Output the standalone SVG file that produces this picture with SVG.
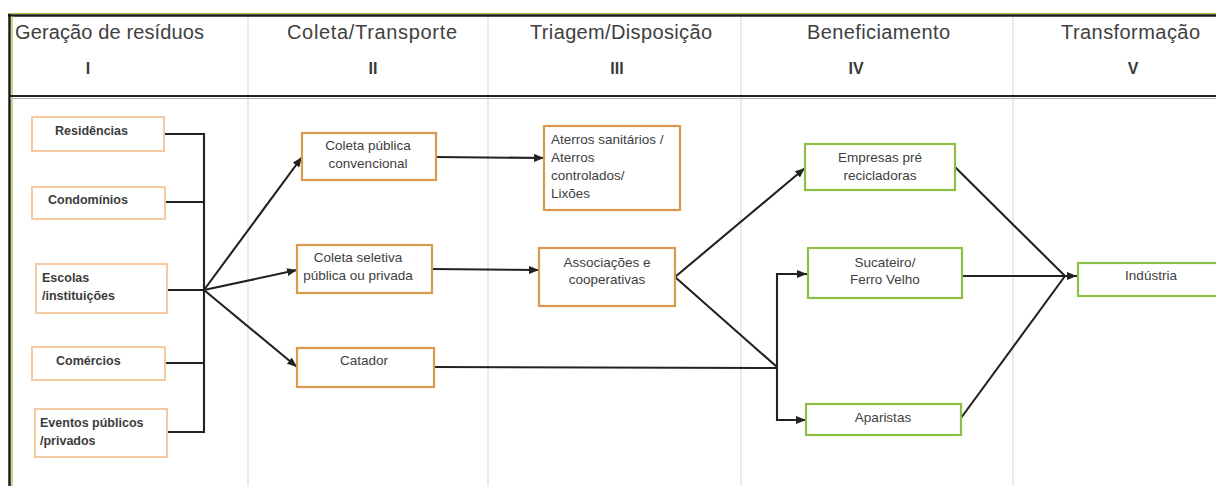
<svg xmlns="http://www.w3.org/2000/svg" width="1216" height="486" viewBox="0 0 1216 486">
<defs>
<style>
text{font-family:"Liberation Sans",Arial,sans-serif}
.hdr{font-size:20px;fill:#404040}
.num{font-size:16px;font-weight:bold;fill:#3a3a3a;text-anchor:middle}
.t{font-size:13.5px;fill:#404040}
.m{text-anchor:middle}
.tb{font-size:12.5px;font-weight:bold;fill:#3c3c3c}
.n1 rect{fill:#fff;stroke:#f6c9a0;stroke-width:2}
.n2 rect{fill:#fff;stroke:#d99a4e;stroke-width:2.2}
.n3 rect{fill:#fff;stroke:#8dbf45;stroke-width:2.2}
.c{stroke:#222;stroke-width:2.1;fill:none}
.a{marker-end:url(#ah)}
.div{stroke:#e3e3e3;stroke-width:1.5}
</style>
<marker id="ah" markerWidth="10" markerHeight="8" refX="10" refY="4" orient="auto" markerUnits="userSpaceOnUse">
<path d="M0,0 L10,4 L0,8 z" fill="#222"/>
</marker>
</defs>
<rect width="1216" height="486" fill="#fff"/>
<g id="frame">
<line class="div" x1="248" y1="16" x2="248" y2="486"/>
<line class="div" x1="488" y1="16" x2="488" y2="486"/>
<line class="div" x1="741" y1="16" x2="741" y2="486"/>
<line class="div" x1="1013" y1="16" x2="1013" y2="486"/>
<line x1="8" y1="13.5" x2="1216" y2="13.5" stroke="#9bc53d" stroke-width="1.2"/>
<line x1="8" y1="15.5" x2="1216" y2="15.5" stroke="#1c1c1c" stroke-width="2.5"/>
<line x1="12" y1="16" x2="12" y2="486" stroke="#9bc53d" stroke-width="1.2"/>
<line x1="9.5" y1="14" x2="9.5" y2="486" stroke="#1c1c1c" stroke-width="2.5"/>
<line x1="10" y1="96" x2="1216" y2="96" stroke="#222" stroke-width="2"/>
<line x1="10" y1="98.5" x2="1216" y2="98.5" stroke="#b5b5b5" stroke-width="1"/>
</g>
<g id="headers">
<text class="hdr" x="15" y="38.5" textLength="189">Geração de resíduos</text>
<text class="num" x="88" y="73.5">I</text>
<text class="hdr" x="287" y="38.5" textLength="170">Coleta/Transporte</text>
<text class="num" x="373" y="73.5">II</text>
<text class="hdr" x="530" y="38.5" textLength="182">Triagem/Disposição</text>
<text class="num" x="617" y="73.5">III</text>
<text class="hdr" x="807" y="38.5" textLength="143">Beneficiamento</text>
<text class="num" x="856" y="73.5">IV</text>
<text class="hdr" x="1061" y="38.5" textLength="139">Transformação</text>
<text class="num" x="1133" y="73.5">V</text>
</g>
<g id="connectors">
<path class="c" d="M164,134 H204 M165,202 H204 M167,290 H204 M165,363 H204 M167,432 H204 M204,133 V433"/>
<path class="c a" d="M204,290 L302,157"/>
<path class="c a" d="M204,290 L297,270"/>
<path class="c a" d="M204,290 L297,367"/>
<path class="c a" d="M436,157 L544,158"/>
<path class="c a" d="M432,269 L539,270"/>
<path class="c a" d="M675,277 L805,168"/>
<path class="c" d="M675,277 L777,367"/>
<path class="c" d="M434,367 L777,368"/>
<path class="c a" d="M777,368 V274 H807"/>
<path class="c a" d="M777,368 V420 H806"/>
<path class="c" d="M955,167 L1065,276"/>
<path class="c a" d="M962,276 L1077,276"/>
<path class="c" d="M961,418 L1065,276"/>
</g>
<g id="residencias" class="n1"><rect x="32" y="117" width="132" height="34"/><text class="tb" x="55" y="134.5">Residências</text></g>
<g id="condominios" class="n1"><rect x="32" y="187" width="133" height="32"/><text class="tb" x="48" y="203.5">Condomínios</text></g>
<g id="escolas" class="n1"><rect x="36" y="264" width="131" height="49"/><text class="tb" x="42" y="281.5">Escolas</text><text class="tb" x="42" y="300">/instituições</text></g>
<g id="comercios" class="n1"><rect x="32" y="347" width="133" height="33"/><text class="tb" x="56" y="364.5">Comércios</text></g>
<g id="eventos" class="n1"><rect x="35" y="409" width="132" height="48"/><text class="tb" x="40" y="426.5">Eventos públicos</text><text class="tb" x="40" y="444.5">/privados</text></g>
<g id="coleta-publica" class="n2"><rect x="302" y="133" width="134" height="47"/><text class="t m" x="368" y="149.5">Coleta pública</text><text class="t m" x="368" y="167.5">convencional</text></g>
<g id="coleta-seletiva" class="n2"><rect x="297" y="245" width="135" height="48"/><text class="t m" x="358" y="261.5">Coleta seletiva</text><text class="t m" x="358" y="279.5">pública ou privada</text></g>
<g id="catador" class="n2"><rect x="297" y="348" width="137" height="39"/><text class="t m" x="364" y="365">Catador</text></g>
<g id="aterros" class="n2"><rect x="544" y="126" width="136" height="84"/><text class="t" x="551" y="143.5">Aterros sanitários /</text><text class="t" x="551" y="161.5">Aterros</text><text class="t" x="551" y="180">controlados/</text><text class="t" x="551" y="198">Lixões</text></g>
<g id="associacoes" class="n2"><rect x="539" y="248" width="136" height="58"/><text class="t m" x="607" y="266.5">Associações e</text><text class="t m" x="607" y="283.5">cooperativas</text></g>
<g id="empresas" class="n3"><rect x="805" y="144" width="150" height="46"/><text class="t m" x="880" y="162">Empresas pré</text><text class="t m" x="880" y="179.5">recicladoras</text></g>
<g id="sucateiro" class="n3"><rect x="808" y="248" width="154" height="50"/><text class="t m" x="885" y="266.5">Sucateiro/</text><text class="t m" x="885" y="283.5">Ferro Velho</text></g>
<g id="aparistas" class="n3"><rect x="806" y="404" width="155" height="31"/><text class="t m" x="883" y="421.5">Aparistas</text></g>
<g id="industria" class="n3"><rect x="1078" y="263" width="140" height="33"/><text class="t m" x="1151" y="279.5">Indústria</text></g>
</svg>
